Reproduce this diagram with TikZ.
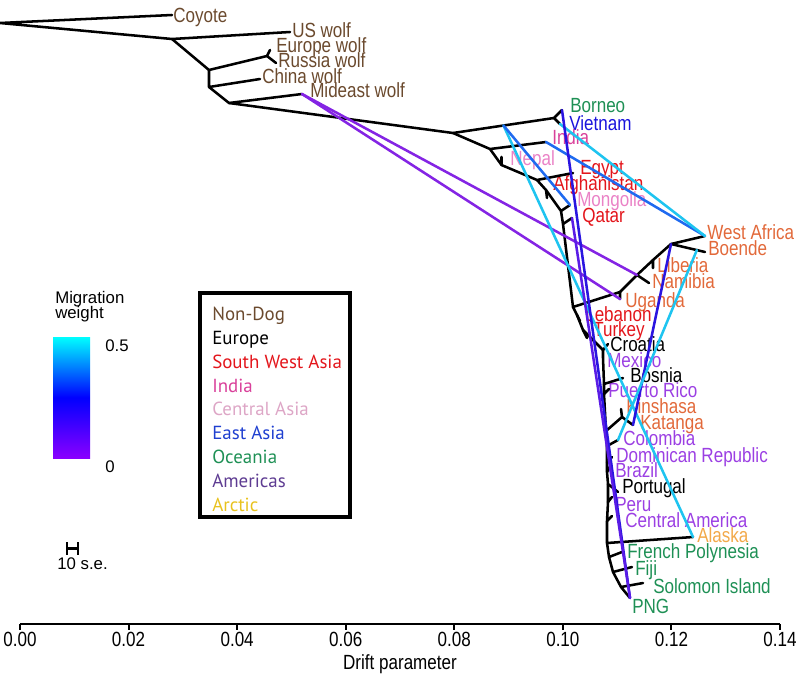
\documentclass[tikz,border=0pt]{standalone}
\usepackage{fontspec}
\setmainfont{Liberation Sans}
\newfontfamily\labfont[FakeStretch=0.83]{Liberation Sans}
\newfontfamily\legfont{PT Sans}
\usetikzlibrary{calc}
\definecolor{nondog}{HTML}{6B4A2E}
\definecolor{swasia}{HTML}{E3151B}
\definecolor{india}{HTML}{D9409A}
\definecolor{casia}{HTML}{EA82C6}
\definecolor{casialeg}{HTML}{DDA6C6}
\definecolor{easia}{HTML}{1A14DC}
\definecolor{easialeg}{HTML}{1F3FD0}
\definecolor{oceania}{HTML}{1E9055}
\definecolor{amer}{HTML}{9B3FE3}
\definecolor{amerleg}{HTML}{5E3C92}
\definecolor{arctic}{HTML}{E8C21E}
\definecolor{alaska}{HTML}{F2A94A}
\definecolor{africa}{HTML}{E2693A}
\definecolor{mpurple}{HTML}{8424E4}
\definecolor{mcyan}{HTML}{1EC4F0}
\definecolor{mblue}{HTML}{1F6AF0}
\definecolor{mdblue}{HTML}{2A14E0}
\definecolor{mviolet}{HTML}{5A1CE6}
\tikzset{
  tree/.style={line width=1.9pt, line cap=round, line join=round, black},
  mig/.style={line width=1.9pt, line cap=round},
  lab/.style={anchor=base west, inner sep=0pt, font=\labfont\fontsize{15.4pt}{18pt}\selectfont},
  leg/.style={anchor=base west, inner sep=0pt, font=\legfont\fontsize{14.2pt}{16pt}\selectfont},
  axlab/.style={anchor=base, inner sep=0pt, font=\labfont\fontsize{15.4pt}{18pt}\selectfont},
  small/.style={inner sep=0pt, font=\fontsize{12.6pt}{14pt}\selectfont}
}
\begin{document}
\begin{tikzpicture}[x=0.75pt,y=-0.75pt]
\useasboundingbox (0,0) rectangle (802,679);
% ---------- coordinates ----------
\coordinate (root) at (0,23);
\coordinate (coy) at (172,15);
\coordinate (n1) at (172,39);
\coordinate (usw) at (290,32);
\coordinate (n2) at (209,70);
\coordinate (n3) at (267,56);
\coordinate (euw) at (270,50);
\coordinate (ruw) at (276,63);
\coordinate (n4) at (209,87);
\coordinate (chw) at (260,79);
\coordinate (n5) at (229,103);
\coordinate (mew) at (302,94);
\coordinate (d0) at (453,133);
\coordinate (nbv) at (554,118);
\coordinate (bor) at (562,110);
\coordinate (vie) at (560,124);
\coordinate (d1) at (490,149);
\coordinate (ind) at (546,142);
\coordinate (d2) at (501.5,165);
\coordinate (nep) at (501.5,157);
\coordinate (d3) at (537,180);
\coordinate (egy) at (573,173);
\coordinate (d4) at (546,190);
\coordinate (afg) at (547,198);
\coordinate (d5) at (561,211);
\coordinate (mon) at (570,205);
\coordinate (d6) at (563,224);
\coordinate (qat) at (572,218);
\coordinate (d7) at (573,307);
\coordinate (a1) at (620,292);
\coordinate (uga) at (620,299);
\coordinate (a2) at (637,275);
\coordinate (nam) at (649,283);
\coordinate (a3) at (653,260);
\coordinate (lib) at (653,268);
\coordinate (a4) at (671,244);
\coordinate (wa) at (705,236);
\coordinate (boe) at (705,252);
\coordinate (l1) at (577,315);
\coordinate (leb) at (580,321);
\coordinate (t1) at (583,330);
\coordinate (tur) at (587,338);
\coordinate (e1) at (603,350);
\coordinate (cro) at (608,344);
\coordinate (mex) at (603,358);
\coordinate (bosn) at (604,384);
\coordinate (bos) at (623,378);
\coordinate (prn) at (604,394);
\coordinate (pr) at (609,389);
\coordinate (kkn) at (606,431);
\coordinate (kk2) at (622,417);
\coordinate (kin) at (621,409);
\coordinate (kat) at (633,425);
\coordinate (coln) at (607,446);
\coordinate (col) at (618,440);
\coordinate (domn) at (607,462);
\coordinate (dom) at (612,457);
\coordinate (bran) at (607,472);
\coordinate (bra) at (610,467);
\coordinate (porn) at (608,484);
\coordinate (por) at (618,492);
\coordinate (pern) at (608,502);
\coordinate (per) at (612,497);
\coordinate (can) at (607,521);
\coordinate (ca) at (612,516);
\coordinate (alan) at (607,543);
\coordinate (ala) at (693,537);
\coordinate (fpn) at (609,557);
\coordinate (fp) at (622,552);
\coordinate (fijn) at (613,572);
\coordinate (fij) at (632,567);
\coordinate (soln) at (621,587);
\coordinate (sol) at (643,583);
\coordinate (png) at (630,598);
\coordinate (bm) at ($(d0)!0.5!(nbv)$);
\coordinate (bb) at ($(a4)!0.76!(boe)$);
% ---------- labels ----------
\node[lab, text=nondog] (Lcoy) at (173,22) {Coyote};
\node[lab, text=nondog] (Lusw) at (292,37) {US wolf};
\node[lab, text=nondog] (Leuw) at (276,52) {Europe wolf};
\node[lab, text=nondog] (Lruw) at (278,67) {Russia wolf};
\node[lab, text=nondog] (Lchw) at (262,83) {China wolf};
\node[lab, text=nondog] (Lmew) at (310,97) {Mideast wolf};
\node[lab, text=oceania] (Lbor) at (570,112) {Borneo};
\node[lab, text=easia] (Lvie) at (569,130) {Vietnam};
\node[lab, text=india] (Lind) at (552,144) {India};
\node[lab, text=casia] (Lnep) at (510,165) {Nepal};
\node[lab, text=swasia] (Legy) at (580,174) {Egypt};
\node[lab, text=swasia] (Lafg) at (553,190) {Afghanistan};
\node[lab, text=casia] (Lmon) at (577,206) {Mongolia};
\node[lab, text=swasia] (Lqat) at (582,222) {Qatar};
\node[lab, text=africa] (Lwa) at (707,239) {West Africa};
\node[lab, text=africa] (Lboe) at (708,255) {Boende};
\node[lab, text=africa] (Llib) at (657,272) {Liberia};
\node[lab, text=africa] (Lnam) at (652,288) {Namibia};
\node[lab, text=africa] (Luga) at (625,307) {Uganda};
\node[lab, text=swasia] (Lleb) at (585,321) {Lebanon};
\node[lab, text=swasia] (Ltur) at (593,336) {Turkey};
\node[lab] (Lcro) at (610,351) {Croatia};
\node[lab, text=amer] (Lmex) at (607,367) {Mexico};
\node[lab] (Lbos) at (630,382) {Bosnia};
\node[lab, text=amer] (Lpr) at (608,397) {Puerto Rico};
\node[lab, text=africa] (Lkin) at (626,413) {Kinshasa};
\node[lab, text=africa] (Lkat) at (640,429) {Katanga};
\node[lab, text=amer] (Lcol) at (623,445) {Colombia};
\node[lab, text=amer] (Ldom) at (616,462) {Dominican Republic};
\node[lab, text=amer] (Lbra) at (615,477) {Brazil};
\node[lab] (Lpor) at (622,493) {Portugal};
\node[lab, text=amer] (Lper) at (615,511) {Peru};
\node[lab, text=amer] (Lca) at (625,527) {Central America};
\node[lab, text=alaska] (Lala) at (697,542) {Alaska};
\node[lab, text=oceania] (Lfp) at (627,558) {French Polynesia};
\node[lab, text=oceania] (Lfij) at (635,575) {Fiji};
\node[lab, text=oceania] (Lsol) at (653,593) {Solomon Island};
\node[lab, text=oceania] (Lpng) at (632,613) {PNG};
% ---------- tree ----------
\draw[tree] (coy) -- (root) -- (n1) -- (usw);
\draw[tree] (n1) -- (n2) -- (n3) -- (euw);
\draw[tree] (n3) -- (ruw);
\draw[tree] (n2) -- (n4) -- (chw);
\draw[tree] (n4) -- (n5) -- (mew);
\draw[tree] (n5) -- (d0) -- (nbv) -- (bor);
\draw[tree] (nbv) -- (vie);
\draw[tree] (d0) -- (d1) -- (ind);
\draw[tree] (d1) -- (d2) -- (nep);
\draw[tree] (d2) -- (d3) -- (egy);
\draw[tree] (d3) -- (d4) -- (afg);
\draw[tree] (d4) -- (d5) -- (mon);
\draw[tree] (d5) -- (d6) -- (qat);
\draw[tree] (d6) -- (d7) -- (a1) -- (uga);
\draw[tree] (a1) -- (a2) -- (nam);
\draw[tree] (a2) -- (a3) -- (lib);
\draw[tree] (a3) -- (a4) -- (wa);
\draw[tree] (a4) -- (boe);
\draw[tree] (d7) -- (l1) -- (leb);
\draw[tree] (l1) -- (t1) -- (tur);
\draw[tree] (t1) -- (e1) -- (cro);
\draw[tree] (e1) -- (mex) -- (bosn) -- (bos);
\draw[tree] (bosn) -- (prn) -- (pr);
\draw[tree] (prn) -- (kkn) -- (kk2) -- (kin);
\draw[tree] (kk2) -- (kat);
\draw[tree] (kkn) -- (coln) -- (col);
\draw[tree] (coln) -- (domn) -- (dom);
\draw[tree] (domn) -- (bran) -- (bra);
\draw[tree] (bran) -- (porn) -- (por);
\draw[tree] (porn) -- (pern) -- (per);
\draw[tree] (pern) -- (can) -- (ca);
\draw[tree] (can) -- (alan) -- (ala);
\draw[tree] (alan) -- (fpn) -- (fp);
\draw[tree] (fpn) -- (fijn) -- (fij);
\draw[tree] (fijn) -- (soln) -- (sol);
\draw[tree] (soln) -- (png);
% ---------- migration edges ----------
\draw[mig, mpurple] (mew) -- (a2);
\draw[mig, mpurple] (mew) -- (uga);
\draw[mig, mcyan] (bm) -- (ala);
\draw[mig, mblue] (bm) -- (mon);
\draw[mig, mblue] (ind) -- (wa);
\draw[mig, mcyan] (vie) -- (wa);
\draw[mig, mdblue] (bor) -- (png);
\draw[mig, mviolet] (qat) -- (png);
\draw[mig, mdblue] (a4) -- (kat);
\draw[mig, mcyan] (bb) -- (col);
% ---------- axis ----------
\coordinate (ax0) at (20,624);
\coordinate (ax1) at (780,624);
\draw[line width=1.9pt] (ax0) -- (ax1);
\foreach \i/\t in {0/0.00,1/0.02,2/0.04,3/0.06,4/0.08,5/0.10,6/0.12,7/0.14}{
  \draw[line width=1.5pt] ($(ax0)!\i/7!(ax1)$) -- ++(0,6);
  \node[axlab] (tk\i) at ($(ax0)!\i/7!(ax1) + (0,22)$) {\t};
}
\node[axlab] (xlab) at (400,669) {Drift parameter};
% ---------- colour bar ----------
\node[small, anchor=base west] (mw1) at (55,303) {Migration};
\node[small, anchor=base west] (mw2) at (55,318) {weight};
\shade[top color=cyan, bottom color={rgb,255:red,138;green,0;blue,255}, middle color=blue] (53,337) rectangle (90,458);
\node[small, anchor=base west] (cb1) at (105,351) {0.5};
\node[small, anchor=base west] (cb0) at (105,472) {0};
% ---------- scale bar ----------
\coordinate (sb0) at (67,548.5);
\coordinate (sb1) at (78,548.5);
\draw[line width=1.8pt] (sb0) -- (sb1);
\draw[line width=1.8pt] ($(sb0)+(0,-6.5)$) -- ($(sb0)+(0,6.5)$);
\draw[line width=1.8pt] ($(sb1)+(0,-6.5)$) -- ($(sb1)+(0,6.5)$);
\node[small, anchor=base west] (sbl) at (57,569) {10 s.e.};
% ---------- legend ----------
\draw[line width=2.4pt] (200,293) rectangle (350,517);
\node[leg, text=nondog] (g1) at (212,320) {Non-Dog};
\node[leg] (g2) at (212,344) {Europe};
\node[leg, text=swasia] (g3) at (212,368) {South West Asia};
\node[leg, text=india] (g4) at (212,392) {India};
\node[leg, text=casialeg] (g5) at (212,415.5) {Central Asia};
\node[leg, text=easialeg] (g6) at (212,439.5) {East Asia};
\node[leg, text=oceania] (g7) at (212,463.5) {Oceania};
\node[leg, text=amerleg] (g8) at (212,487) {Americas};
\node[leg, text=arctic] (g9) at (212,511) {Arctic};
\end{tikzpicture}
\end{document}
